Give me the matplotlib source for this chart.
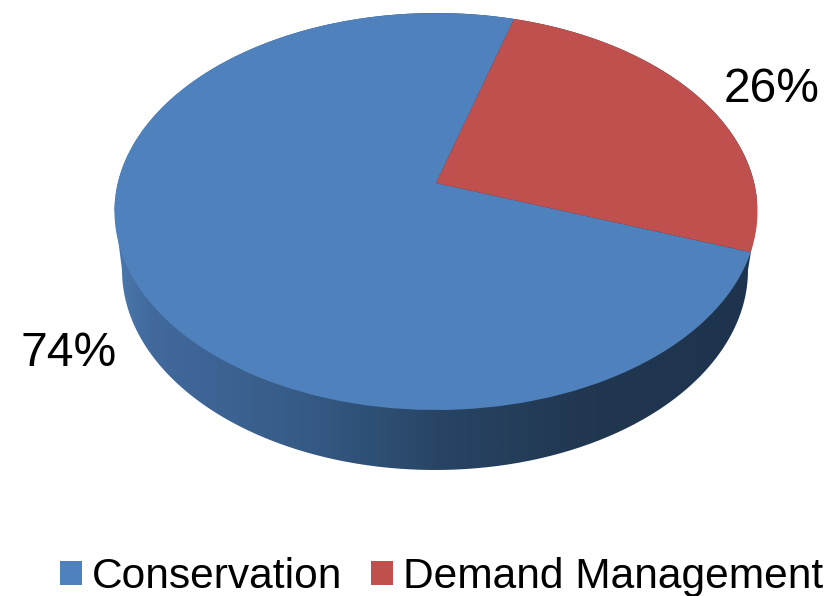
import numpy as np
import matplotlib
matplotlib.use("Agg")
import matplotlib.pyplot as plt
from matplotlib.colors import LinearSegmentedColormap
from matplotlib.path import Path
from matplotlib.patches import PathPatch
from matplotlib.transforms import Transform

categories = ["Conservation", "Demand Management"]
values = [74, 26]
colors = ["#4F81BD", "#C0504D"]
side_stops = [(0.0, "#4A78AE"), (0.06, "#41699C"), (0.28, "#375C88"), (0.5, "#284565"),
              (0.75, "#21364F"), (1.0, "#1E334D")]

plt.rcParams["font.family"] = ["Liberation Sans", "DejaVu Sans"]

W, H = 837, 596
CX, CY = 436.0, 183.0
A, B, K = 318.2, 194.4, 0.1436


class Perspective(Transform):
    """Tilted view of the unit-circle pie, in pixel-like data units."""
    input_dims = output_dims = 2
    is_affine = False

    def transform_non_affine(self, xy):
        xy = np.asarray(xy, dtype=float)
        d = 1 + K * xy[:, 1]
        return np.column_stack([CX + A * xy[:, 0] / d, CY - B * xy[:, 1] / d])


fig = plt.figure(figsize=(W / 100, H / 100), dpi=100, facecolor="white")
ax = fig.add_axes([0, 0, 1, 1])
wedges, _ = ax.pie(values, colors=colors, startangle=-19.8, counterclock=False, radius=1,
                   wedgeprops=dict(linewidth=0), frame=False)
persp = Perspective()
for w in wedges:
    w.set_transform(persp + ax.transData)
    w.set_zorder(3)

# Side wall: outline of the upper rim joined to the lower rim, filled by a gradient
t = np.linspace(0, 2 * np.pi, 721)
rim = persp.transform_non_affine(np.column_stack([np.cos(t), np.sin(t)]))
low = np.column_stack([435 + 313 * np.cos(t), 270 - 200 * np.sin(t)])
low_front = low[(t >= np.pi)]
left, right = rim[:, 0].argmin(), rim[:, 0].argmax()
rim_back = rim[(t < t[left]) | (t > t[right])]
rim_back = rim_back[np.argsort(np.arctan2(rim_back[:, 1] - 211, rim_back[:, 0] - 435) % (2 * np.pi))]
rim_back = rim_back[::-1] if rim_back[0, 0] < rim_back[-1, 0] else rim_back
outline = np.vstack([low_front, rim_back, low_front[:1]])
cmap = LinearSegmentedColormap.from_list("side", side_stops)
img = ax.imshow(np.linspace(0, 1, 512)[None, :], cmap=cmap, extent=(114, 757, 480, 0),
                aspect="auto", zorder=2, interpolation="bilinear")
clip = PathPatch(Path(outline), transform=ax.transData, facecolor="none", edgecolor="none")
ax.add_patch(clip)
img.set_clip_path(clip)

ax.set_aspect("auto")
ax.set_xlim(0, W)
ax.set_ylim(H, 0)
ax.axis("off")

ax.text(69, 354, f"{values[0]}%", fontsize=34.6, ha="center", va="center", color="black", zorder=5)
ax.text(772, 90, f"{values[1]}%", fontsize=34.6, ha="center", va="center", color="black", zorder=5)

fig.legend(wedges, categories, loc="center left", bbox_to_anchor=(60 / W, 1 - 577 / H),
           ncol=2, frameon=False, fontsize=30.6, handlelength=0.52, handleheight=0.52,
           handletextpad=0.23, columnspacing=0.68, borderpad=0, borderaxespad=0)

fig.savefig("out.png", dpi=100, facecolor="white")
